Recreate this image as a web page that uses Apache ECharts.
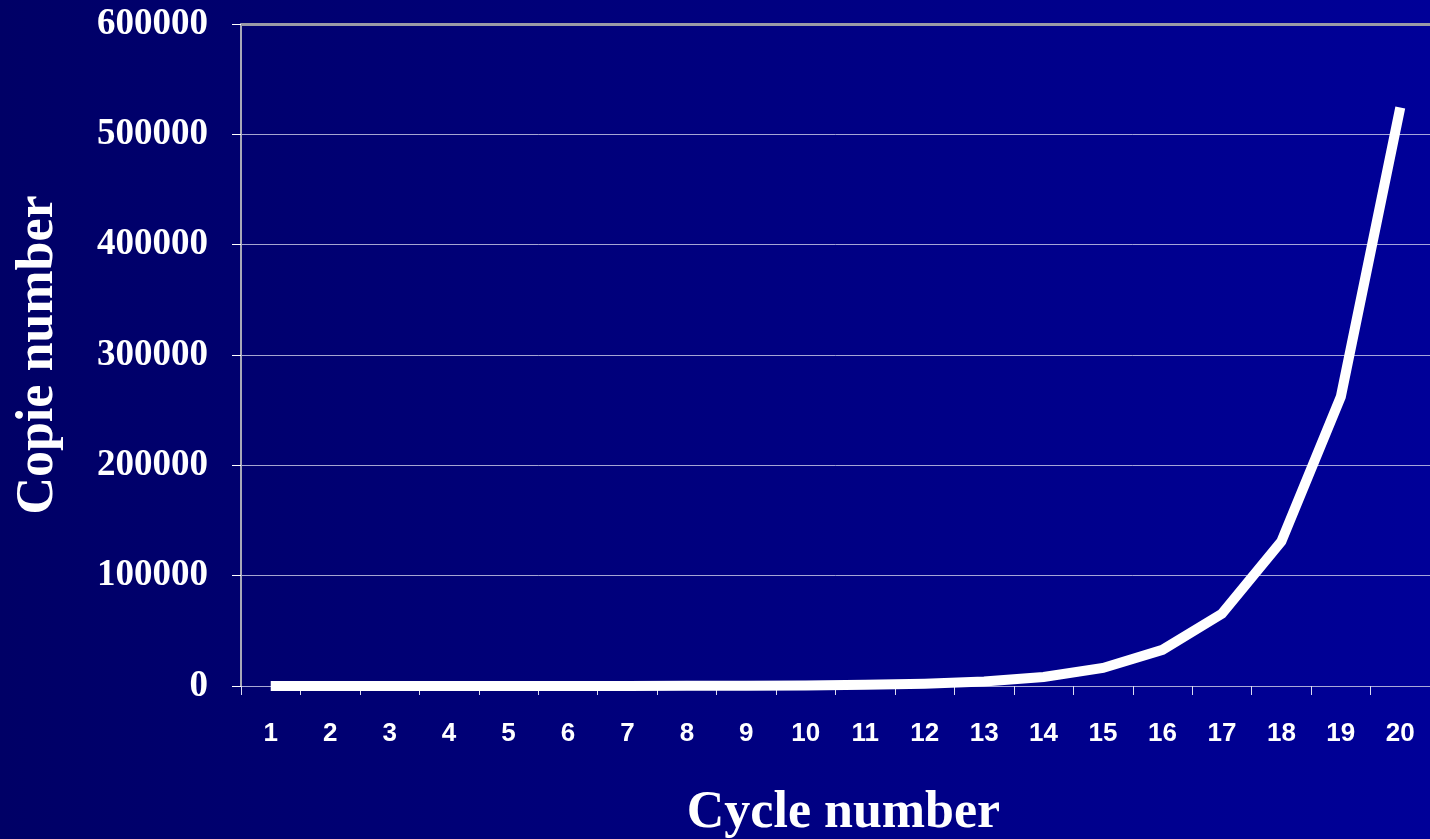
<!DOCTYPE html>
<html>
<head>
<meta charset="utf-8">
<script src="https://cdn.jsdelivr.net/npm/echarts@6/dist/echarts.min.js"></script>
<style>
  html, body { margin: 0; padding: 0; width: 100%; height: 100%; overflow: hidden; }
  #chart { width: 1430px; height: 839px; }
</style>
</head>
<body>
<div id="chart"></div>
<script>
// PCR amplification: copies present after each cycle
const cycles = ['1','2','3','4','5','6','7','8','9','10','11','12','13','14','15','16','17','18','19','20'];
const copies = [1, 2, 4, 8, 16, 32, 64, 128, 256, 512, 1024, 2048, 4096, 8192, 16384, 32768, 65536, 131072, 262144, 524288];
const yMin = 0;
const yMax = 600000;
const yStep = 100000;
const xTitle = 'Cycle number';
const yTitle = 'Copie number';

const chart = echarts.init(document.getElementById('chart'));

chart.setOption({
  backgroundColor: new echarts.graphic.LinearGradient(0, 0, 1, 0, [
    { offset: 0, color: '#000066' },
    { offset: 1, color: '#000098' }
  ]),
  animation: false,
  grid: { left: 241, right: 0, top: 24, bottom: 153, containLabel: false, outerBoundsMode: 'none' },
  xAxis: {
    type: 'category',
    data: cycles,
    boundaryGap: true,
    name: xTitle,
    nameLocation: 'middle',
    nameGap: 102,
    nameTextStyle: {
      color: '#ffffff',
      fontFamily: 'Liberation Serif',
      fontWeight: 'bold',
      fontSize: 52,
      padding: [0, 0, 0, 16]
    },
    axisLine: { show: true, lineStyle: { color: 'rgba(170,170,215,0.6)', width: 1 } },
    axisTick: { show: true, alignWithLabel: false, length: 9, lineStyle: { color: '#dcdcf0', width: 1 } },
    axisLabel: {
      color: '#ffffff',
      fontFamily: 'Liberation Sans',
      fontWeight: 'bold',
      fontSize: 26,
      margin: 35,
      interval: 0
    },
    splitLine: { show: false }
  },
  yAxis: {
    type: 'value',
    min: yMin,
    max: yMax,
    interval: yStep,
    name: yTitle,
    nameLocation: 'middle',
    nameRotate: 90,
    nameGap: 176,
    nameTextStyle: {
      color: '#ffffff',
      fontFamily: 'Liberation Serif',
      fontWeight: 'bold',
      fontSize: 52
    },
    axisLine: { show: true, lineStyle: { color: '#a8a8b8', width: 2 } },
    axisTick: { show: true, length: 9, lineStyle: { color: '#ffffff', width: 1 } },
    axisLabel: {
      color: '#ffffff',
      fontFamily: 'Liberation Serif',
      fontWeight: 'bold',
      fontSize: 37,
      margin: 33,
      formatter: function (v) { return String(v); }
    },
    splitLine: { show: true, lineStyle: { color: 'rgba(220,220,240,0.75)', width: 1 } }
  },
  series: [{
    type: 'line',
    data: copies,
    symbol: 'none',
    silent: true,
    lineStyle: { color: '#ffffff', width: 10, cap: 'butt', join: 'miter' },
    markLine: {
      silent: true,
      symbol: 'none',
      label: { show: false },
      lineStyle: { color: '#9a9aa6', width: 3, type: 'solid' },
      data: [{ yAxis: yMax }]
    },
    z: 5
  }]
});
</script>
</body>
</html>
